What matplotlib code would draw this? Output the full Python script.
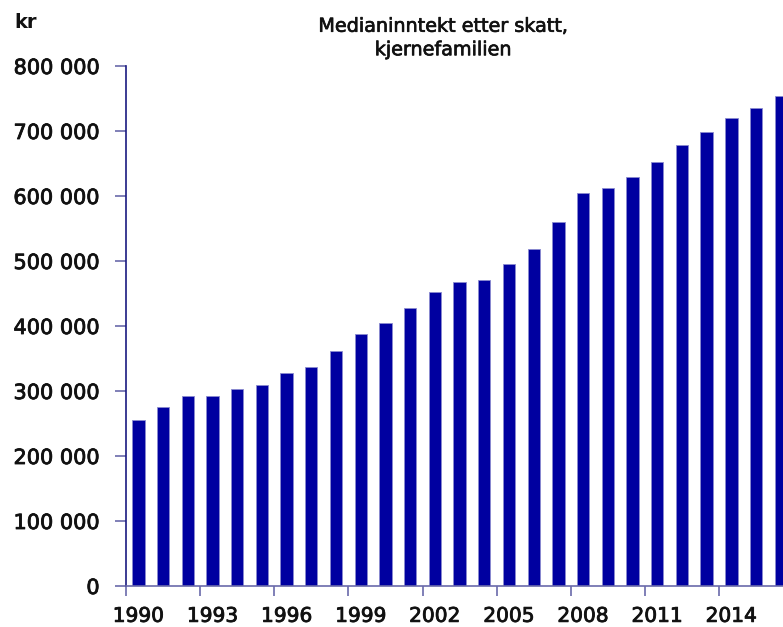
import matplotlib
matplotlib.use("Agg")
import matplotlib.pyplot as plt
import matplotlib.patheffects as pe
from matplotlib.ticker import FuncFormatter, FixedLocator

# median income after tax, nuclear family (kr)
years = list(range(1990, 2017))
income = [255000, 276000, 293000, 293000, 303500, 309000, 327000, 337000,
          362000, 388000, 404000, 427000, 452000, 467000, 471000, 496000,
          519000, 560000, 604000, 612000, 629000, 653000, 678000, 698000,
          720000, 735000, 754000]
label_years = [1990, 1993, 1996, 1999, 2002, 2005, 2008, 2011, 2014]

BAR = "#0000a0"
AXIS = "#1a1a80"
TICK = "#6a6aaa"
INK = "#111111"
# a thin stroke to get the slightly heavier look of the original font
THICK = [pe.withStroke(linewidth=0.6, foreground=INK)]

plt.rcParams["font.family"] = ["DejaVu Sans"]

fig = plt.figure(figsize=(7.83, 6.27), dpi=100)
ax = fig.add_axes([126 / 783, (627 - 586) / 627, 1 - 126 / 783, (586 - 66) / 627])

xs = list(range(len(years)))
ax.bar(xs, income, width=0.5, color=BAR, edgecolor="#8a8ad0", linewidth=0.6)

ax.set_ylim(0, 800000)
ax.set_xlim(-0.5, 26.09)
ax.set_yticks(range(0, 800001, 100000))
ax.yaxis.set_major_formatter(FuncFormatter(lambda v, p: f"{int(v):,}".replace(",", " ")))

# labels under the bars, tick marks on the category boundaries
ax.xaxis.set_major_locator(FixedLocator([years.index(y) for y in label_years]))
ax.set_xticklabels([str(y) for y in label_years])
ax.xaxis.set_minor_locator(FixedLocator([years.index(y) - 0.5 for y in label_years]))
ax.tick_params(axis="x", which="major", length=0, pad=15, labelsize=14.5, colors=INK)
ax.tick_params(axis="x", which="minor", length=7, width=1.2, color=TICK, direction="out")
ax.tick_params(axis="y", length=8, width=1.2, color=TICK, pad=11, labelsize=15,
               labelcolor=INK)
for lab in ax.get_xticklabels() + ax.get_yticklabels():
    lab.set_path_effects(THICK)

for s in ("top", "right"):
    ax.spines[s].set_visible(False)
ax.spines["left"].set_color(AXIS)
ax.spines["left"].set_linewidth(1.2)
ax.spines["bottom"].set_color(TICK)
ax.spines["bottom"].set_linewidth(1.2)

fig.text(443 / 783, 1 - 38 / 627, "Medianinntekt etter skatt,\nkjernefamilien",
         ha="center", va="center", fontsize=13.8, linespacing=1.3, color=INK,
         path_effects=[pe.withStroke(linewidth=0.5, foreground=INK)])
fig.text(14 / 783, 1 - 22 / 627, "kr", ha="left", va="center", fontsize=14,
         fontweight="bold", color=INK)

fig.savefig("out.png", dpi=100, facecolor="white")
